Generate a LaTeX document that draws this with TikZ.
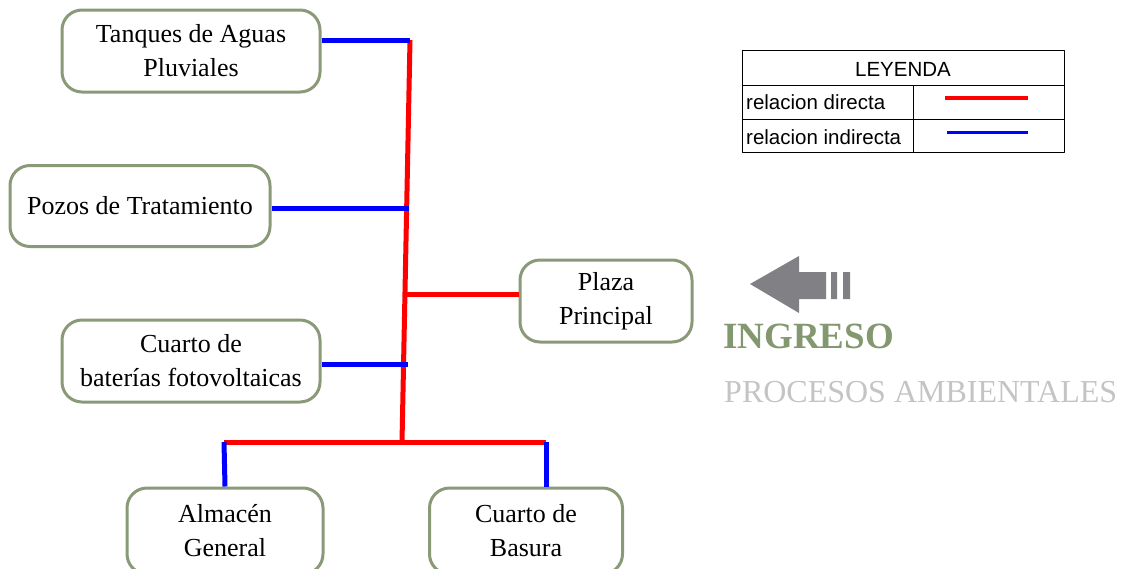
\documentclass[tikz,border=0pt]{standalone}
\usepackage{fontspec}
\setmainfont{Liberation Serif}
\newfontfamily\legendfont{Liberation Sans}
\definecolor{marco}{HTML}{8A9A78}
\definecolor{verde}{HTML}{84986F}
\definecolor{flecha}{HTML}{808085}
\definecolor{gristxt}{HTML}{C4C4C4}
\tikzset{
  box/.style={draw=marco, line width=3pt, rounded corners=20pt, fill=white, align=center,
    inner sep=0pt, font=\fontsize{26}{34}\selectfont},
  dir/.style={red, line width=5pt},
  indir/.style={blue, line width=5pt},
  legend/.style={font=\legendfont\fontsize{20.5}{20.5}\selectfont, inner sep=0pt}
}
\begin{document}
\begin{tikzpicture}[x=1pt, y=-1pt, line join=round]
\useasboundingbox (0,0) rectangle (1131,568);
% areas
\node[box, minimum width=258pt, minimum height=82pt] (tanques) at (191,51) {Tanques de Aguas\\Pluviales};
\node[box, minimum width=260pt, minimum height=81pt] (pozos) at (140,206) {Pozos de Tratamiento};
\node[box, minimum width=172pt, minimum height=82pt] (plaza) at (606,301) {Plaza\\Principal};
\node[box, minimum width=258pt, minimum height=82pt] (baterias) at (191,361) {Cuarto de\\baterías fotovoltaicas};
\node[box, minimum width=196pt, minimum height=86pt] (almacen) at (225,531) {Almacén\\General};
\node[box, minimum width=193pt, minimum height=86pt] (basura) at (526,531) {Cuarto de\\Basura};
% relaciones
\coordinate (t1) at (410,40);
\coordinate (t2) at (409,208);
\coordinate (t3) at (404,294);
\coordinate (t4) at (408,364);
\coordinate (t5) at (402,442);
\coordinate (b1) at (224,442);
\coordinate (b2) at (546,442);
\draw[dir] (t1) -- (t5);
\draw[dir] (t3) -- (plaza.west |- t3);
\draw[dir] (b1) -- (b2);
\draw[indir] (tanques.east |- t1) -- (t1);
\draw[indir] (pozos.east |- t2) -- (t2);
\draw[indir] (baterias.east |- t4) -- (t4);
\draw[indir] (b1) -- (almacen.north);
\draw[indir] (b2) -- (b2 |- basura.north);
% leyenda
\draw[line width=1pt] (742,50) rectangle (1064,152) (742,85) -- (1064,85) (742,119) -- (1064,119) (913,85) -- (913,152);
\node[legend] (ley) at (903,69) {LEYENDA};
\node[legend, anchor=west] (ldir) at (746,102) {relacion directa};
\node[legend, anchor=west] (lind) at (746,137) {relacion indirecta};
\draw[red, line width=4pt] (945,98) -- (1028,98);
\draw[blue, line width=3pt] (947,132) -- (1028,132);
% ingreso
\fill[flecha] (750,284) -- (799,256) -- (799,272) -- (826,272) -- (826,299) -- (799,299) -- (799,313) -- cycle;
\fill[flecha] (831,272) rectangle (837,299) (843,272) rectangle (850,299);
\node[anchor=base west, inner sep=0pt, text=verde, font=\bfseries\fontsize{37}{37}\selectfont] (ingreso) at (723,348) {INGRESO};
\node[anchor=base west, inner sep=0pt, text=gristxt, font=\fontsize{32}{32}\selectfont] (procesos) at (724,402) {PROCESOS AMBIENTALES};
\end{tikzpicture}
\end{document}
